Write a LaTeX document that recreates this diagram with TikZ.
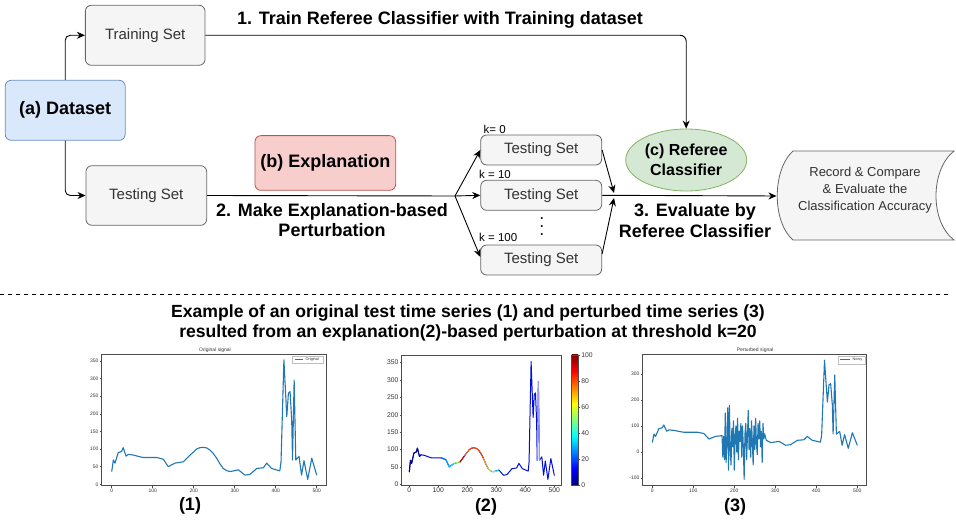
\documentclass[tikz,border=0pt]{standalone}
\usepackage{fontspec}
\setmainfont{Liberation Sans}
\usetikzlibrary{arrows.meta,shapes.geometric}
\definecolor{boxfill}{HTML}{F5F5F5}
\definecolor{boxline}{HTML}{666666}
\definecolor{boxtext}{HTML}{333333}
\definecolor{dsfill}{HTML}{DAE8FC}
\definecolor{dsline}{HTML}{6C8EBF}
\definecolor{exfill}{HTML}{F8CECC}
\definecolor{exline}{HTML}{B85450}
\definecolor{rffill}{HTML}{D5E8D4}
\definecolor{rfline}{HTML}{82B366}
\definecolor{mplblue}{HTML}{1F77B4}
\definecolor{jnavy}{rgb}{0,0,0.5}
\definecolor{jblue}{rgb}{0,0,1}
\definecolor{jcyan}{rgb}{0,1,1}
\definecolor{jyellow}{rgb}{1,1,0}
\definecolor{jred}{rgb}{1,0,0}
\definecolor{jdred}{rgb}{0.5,0,0}
\begin{document}
\begin{tikzpicture}[x=1pt,y=-1pt,
  graybox/.style={draw=boxline,fill=boxfill,rounded corners=6pt,line width=0.8pt,text=boxtext,
    font=\fontsize{15}{18}\selectfont,inner sep=0pt},
  dsbox/.style={draw=dsline,fill=dsfill,rounded corners=6pt,line width=0.8pt,
    font=\fontsize{18}{21}\selectfont\bfseries,inner sep=0pt,minimum width=120pt,minimum height=60pt},
  exbox/.style={draw=exline,fill=exfill,rounded corners=6pt,line width=0.8pt,
    font=\fontsize{18}{21}\selectfont\bfseries,inner sep=0pt,minimum width=140.7pt,minimum height=54.7pt},
  refbox/.style={ellipse,draw=rfline,fill=rffill,line width=0.8pt,
    font=\fontsize{16}{20}\selectfont\bfseries,inner sep=0pt,minimum width=121pt,minimum height=62pt,align=center},
  boldlbl/.style={font=\fontsize{18}{20.5}\selectfont\bfseries,align=center,inner sep=0pt},
  klbl/.style={font=\fontsize{11.5}{13}\selectfont,anchor=west,inner sep=0pt},
  arr/.style={line width=0.9pt,-{Stealth[length=8pt,width=7pt,inset=2.5pt]}},
  conn/.style={line width=0.9pt},
  axisline/.style={draw=black!70,line width=0.5pt},
  ticklbl/.style={font=\fontsize{5}{6}\selectfont,text=boxtext,inner sep=1pt},
  ticklbltwo/.style={font=\fontsize{6.8}{8}\selectfont,text=boxtext,inner sep=1pt},
  sigline/.style={mplblue,line width=1.1pt,line join=round},
  cbline/.style={line width=1pt,line join=round,line cap=round}
]
\useasboundingbox (0,0) rectangle (956,526);

% ---------------- top flow ----------------
\node[graybox,minimum width=119.7pt,minimum height=60pt] (train) at (145.2,35.3) {Training Set};
\node[dsbox] (ds) at (65.2,110.3) {(a) Dataset};
\node[graybox,minimum width=120.7pt,minimum height=59.6pt] (test) at (146.3,195.5) {Testing Set};
\node[exbox] (expl) at (325.3,163) {(b) Explanation};

\node[graybox,minimum width=121pt,minimum height=30pt] (k0) at (541.2,150) {Testing Set};
\node[graybox,minimum width=121pt,minimum height=30pt] (k10) at (541.2,195.3) {Testing Set};
\node[graybox,minimum width=121pt,minimum height=30pt] (k100) at (541.2,260) {Testing Set};
\node[klbl] (lk0) at (483.5,129) {k= 0};
\node[klbl] (lk10) at (479,174) {k = 10};
\node[klbl] (lk100) at (479,237.5) {k = 100};
\fill (541.7,218) circle (1.1pt) (541.7,226) circle (1.1pt) (541.7,234) circle (1.1pt);

\node[refbox] (ref) at (686.2,160) {(c) Referee\\Classifier};

\draw[draw=boxline,fill=boxfill,line width=0.8pt] (793,151) -- (954,151)
  .. controls (930,170) and (930,222) .. (954,240) -- (793,240)
  .. controls (772,222) and (772,170) .. (793,151) -- cycle;
\node[text=boxtext,font=\fontsize{13}{16.7}\selectfont,align=center,inner sep=0pt] (rec) at (865,190) {Record \& Compare\\\& Evaluate the\\Classification Accuracy};
\coordinate (recw) at (776.5,196);
\coordinate (split) at (455,196);
\coordinate (conv1) at (614,193);
\coordinate (conv2) at (614,198);

\draw[arr,rounded corners=5pt] (ds.north) |- (train.west);
\draw[arr,rounded corners=5pt] (ds.south) |- (test.west);
\draw[arr,rounded corners=6pt] (train.east) -| (ref.north);
\draw[conn] (test.east) -- (split);
\draw[arr] (split) -- (k0.west);
\draw[arr] (split) -- (k10.west);
\draw[arr] (split) -- ([yshift=3pt]k100.west);
\draw[arr] (k0.east) -- (conv1);
\draw[arr] ([yshift=6pt]k100.east) -- (conv2);
\draw[arr] (k10.east) -- (recw);

\node[boldlbl] (l1) at (440,20) {1. Train Referee Classifier with Training dataset};
\node[boldlbl] (l2) at (332,220) {2. Make Explanation-based\\Perturbation};
\node[boldlbl] (l3) at (695,220.5) {3. Evaluate by\\Referee Classifier};

\draw[line width=0.8pt,dash pattern=on 4pt off 4pt] (0,294) -- (951,294);

\node[boldlbl,font=\fontsize{17.6}{20.5}\selectfont\bfseries] (title) at (468,323) {Example of an original test time series (1) and perturbed time series (3)\\resulted from an explanation(2)-based perturbation at threshold k=20};

\node[boldlbl] (c1) at (190,506) {(1)};
\node[boldlbl] (c2) at (486,507) {(2)};
\node[boldlbl] (c3) at (735,507) {(3)};

% ---------------- plot 1 ----------------
\node[ticklbl] (t1) at (215,350) {Original signal};
\begin{scope}[shift={(111.7pt,-484.3pt)},x=0.41pt,y=0.3524pt]
  \draw[axisline] (-24.4,-4) rectangle (522.7,369.8);
  \foreach \v in {0,50,...,350} {\draw[axisline] (-24.4,\v) -- ++(-2pt,0) node[left,ticklbl] (p1y\v) {\v};}
  \foreach \v in {0,100,...,500} {\draw[axisline] (\v,-4) -- ++(0,-2pt) node[below,ticklbl] (p1x\v) {\v};}
  \draw[sigline] plot coordinates {(0,36)(4,69)(8,60)(16,90)(24,93)(28,104)(35,80)(41,85)(53,83)(69,78)(77,76)(110,76)(126,71)(138,50)(154,60)(175,64)(191,83)(200,92)(207,100)(215,104)(224,105)(232,103)(240,97)(248,87)(256,74)(264,58)(272,45)(280,39)(289,36)(309,41)(325,26)(337,28)(354,45)(370,47)(378,60)(390,45)(410,38)(413,64)(420,353)(427,192)(431,258)(435,263)(439,183)(441,69)(445,296)(449,69)(457,79)(463,26)(469,67)(478,14)(488,74)(500,26)};
\end{scope}
\draw[draw=black!25,fill=white,line width=0.4pt] (292.3,356.5) rectangle (323.3,363.5);
\draw[mplblue,line width=1pt] (294.7,360) -- (303.3,360);
\node[font=\fontsize{3.8}{4}\selectfont,anchor=west,inner sep=0pt,text=boxtext] (lg1) at (305.5,360) {Original};

% ---------------- plot 2 ----------------
\begin{scope}[shift={(409.3pt,-484.3pt)},x=0.29pt,y=0.3476pt]
  \draw[axisline] (-26.2,-2) rectangle (525.5,372);
  \foreach \v in {0,50,...,350} {\draw[axisline] (-26.2,\v) -- ++(-2pt,0) node[left,ticklbltwo] (p2y\v) {\v};}
  \foreach \v in {0,100,...,500} {\draw[axisline] (\v,-2) -- ++(0,-2pt) node[below,ticklbltwo] (p2x\v) {\v};}
  \draw[cbline,color={rgb,1:red,0;green,0.05;blue,0.85}] plot coordinates {(0,36)(4,69)(8,60)(16,90)(24,93)(28,104)(35,80)(41,85)(53,83)(69,78)(77,76)(110,76)(126,71)(138,50)(154,60)(175,64)(191,83)(200,92)(207,100)(215,104)(224,105)(232,103)(240,97)(248,87)(256,74)(264,58)(272,45)(280,39)(289,36)(309,41)(325,26)(337,28)(354,45)(370,47)(378,60)(390,45)(410,38)(413,64)(420,353)(427,192)(431,258)(435,263)(439,183)(441,69)(445,296)(449,69)(457,79)(463,26)(469,67)(478,14)(488,74)(500,26)};
  \draw[cbline,color={rgb,1:red,0;green,0;blue,0.55}] plot coordinates {(0,36)(4,69)(8,60)(16,90)(24,93)(28,104)(35,80)(41,85)};
  \draw[cbline,color={rgb,1:red,0;green,0.4;blue,1}] plot coordinates {(110,76)(126,71)};
  \draw[cbline,color={rgb,1:red,0;green,0.65;blue,1}] plot coordinates {(126,71)(138,50)};
  \draw[cbline,color={rgb,1:red,0;green,0.9;blue,1}] plot coordinates {(138,50)(154,60)};
  \draw[cbline,color={rgb,1:red,0.45;green,1;blue,0.55}] plot coordinates {(154,60)(165,63)};
  \draw[cbline,color={rgb,1:red,1;green,0.9;blue,0}] plot coordinates {(165,63)(175,64)};
  \draw[cbline,color={rgb,1:red,0.8;green,0;blue,0}] plot coordinates {(175,64)(191,83)};
  \draw[cbline,color={rgb,1:red,1;green,0.45;blue,0}] plot coordinates {(191,83)(200,92)(207,100)};
  \draw[cbline,color={rgb,1:red,1;green,0.3;blue,0}] plot coordinates {(207,100)(215,104)(224,105)(232,103)(240,97)(248,87)(256,74)};
  \draw[cbline,color={rgb,1:red,1;green,0.65;blue,0}] plot coordinates {(256,74)(264,58)(272,45)};
  \draw[cbline,color={rgb,1:red,0.85;green,1;blue,0.15}] plot coordinates {(272,45)(280,39)};
  \draw[cbline,color={rgb,1:red,0.4;green,1;blue,0.6}] plot coordinates {(280,39)(289,36)(300,38)};
  \draw[cbline,color={rgb,1:red,0;green,0.8;blue,1}] plot coordinates {(300,38)(309,41)};
  \draw[cbline,color={rgb,1:red,0.6;green,0.6;blue,1}] plot coordinates {(441,69)(445,296)(449,69)};
\end{scope}
\shade[bottom color=jnavy,top color=jblue] (571.7,485) rectangle (578,468.75);
\shade[bottom color=jblue,top color=jcyan] (571.7,468.8) rectangle (578,436.25);
\shade[bottom color=jcyan,top color=jyellow] (571.7,436.3) rectangle (578,403.75);
\shade[bottom color=jyellow,top color=jred] (571.7,403.8) rectangle (578,371.25);
\shade[bottom color=jred,top color=jdred] (571.7,371.3) rectangle (578,355);
\draw[axisline] (571.7,355) rectangle (578,485);
\foreach \v [evaluate=\v as \py using 485-1.3*\v] in {0,20,...,100} {\draw[axisline] (578,\py) -- (580,\py) node[right,ticklbltwo] (cb\v) {\v};}

% ---------------- plot 3 ----------------
\node[ticklbl] (t3) at (755,350) {Perturbed signal};
\begin{scope}[shift={(652.3pt,-452pt)},x=0.41pt,y=0.26pt]
  \draw[axisline] (-23.4,-129.6) rectangle (522.9,376.9);
  \foreach \v in {-100,0,...,300} {\draw[axisline] (-23.4,\v) -- ++(-2pt,0) node[left,ticklbl] (p3y\v) {\v};}
  \foreach \v in {0,100,...,500} {\draw[axisline] (\v,-129.6) -- ++(0,-2pt) node[below,ticklbl] (p3x\v) {\v};}
  \draw[sigline] plot coordinates {(0,36)(4,69)(8,60)(16,90)(24,93)(28,104)(35,80)(41,85)(53,83)(69,78)(77,76)(110,76)(126,71)(138,50)(154,60)(170,63)
    (172,-20)(174,60)(176,-30)(178,150)(180,-40)(182,40)(184,170)(186,-70)(188,180)(190,10)(192,-50)(194,90)(196,20)(198,120)(200,-70)(202,60)(204,100)(206,0)(208,130)(210,-30)(212,80)(214,40)(216,110)(218,-20)(220,100)(222,20)(224,-105)(226,70)(228,110)(230,-30)(232,60)(234,160)(236,10)(238,90)(240,-20)(242,120)(244,40)(246,-50)(248,100)(250,10)(252,130)(254,30)(256,-10)(258,110)(260,50)(262,120)(264,20)(266,80)(268,-40)(270,110)(272,50)(274,70)
    (278,45)(289,36)(309,41)(325,26)(337,28)(354,45)(370,47)(378,60)(390,45)(410,38)(413,64)(420,353)(427,192)(431,258)(435,263)(439,183)(441,69)(445,296)(449,69)(457,79)(463,26)(469,67)(478,14)(488,74)(500,26)};
\end{scope}
\draw[draw=black!25,fill=white,line width=0.4pt] (838.3,356) rectangle (865,364);
\draw[mplblue,line width=1pt] (840,360) -- (850,360);
\node[font=\fontsize{3.8}{4}\selectfont,anchor=west,inner sep=0pt,text=boxtext] (lg3) at (852.5,360) {Noisy};
\end{tikzpicture}
\end{document}
